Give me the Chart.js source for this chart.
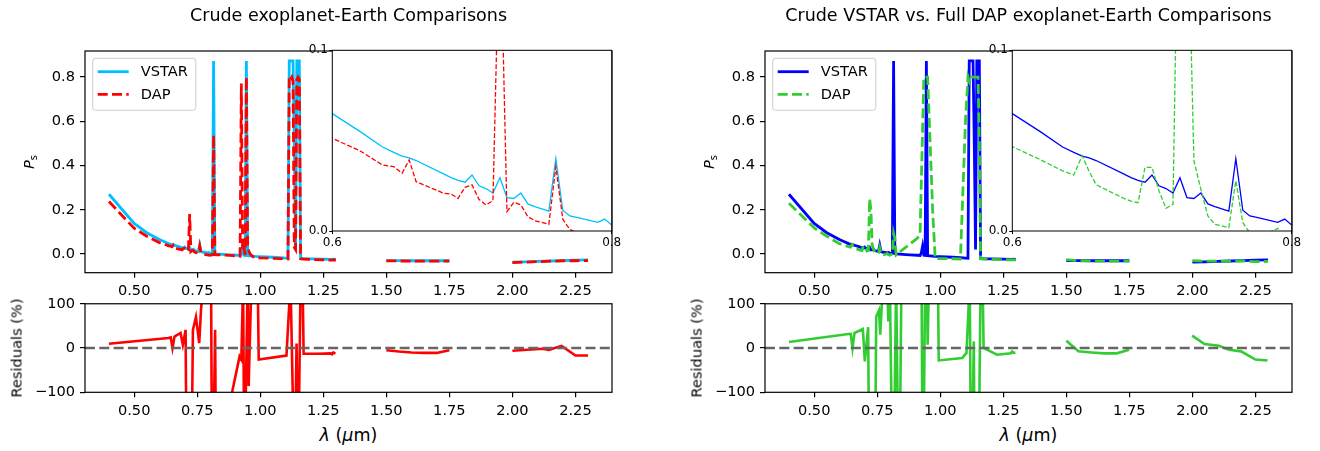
<!DOCTYPE html>
<html>
<head>
<meta charset="utf-8">
<script src="https://cdn.jsdelivr.net/npm/chart.js@4.4.1/dist/chart.umd.min.js"></script>
<style>
  html, body { margin: 0; padding: 0; background: #fff; }
  #fig { position: relative; width: 1320px; height: 451px; overflow: hidden;
         font-family: "DejaVu Sans", sans-serif; color: #000; }
  #fig canvas { position: absolute; }
  .title { position: absolute; top: 5px; font-size: 17.5px; line-height: 20px;
           white-space: nowrap; transform: translateX(-50%); }
  .xlabel { position: absolute; top: 425px; font-size: 17.5px; line-height: 20px;
            white-space: nowrap; transform: translateX(-50%); }
  .ylabel { position: absolute; font-size: 14.6px; line-height: 17px; white-space: nowrap;
            transform: translate(-50%, -50%) rotate(-90deg); }
  .ylabel sub { font-size: 10px; vertical-align: -3px; }
</style>
</head>
<body>
<div id="fig">
  <canvas id="mainL" width="640" height="300" style="left:0px;top:0px"></canvas>
  <canvas id="insetL" width="330" height="215" style="left:300px;top:40px"></canvas>
  <canvas id="resL" width="640" height="130" style="left:0px;top:290px"></canvas>
  <canvas id="mainR" width="640" height="300" style="left:680px;top:0px"></canvas>
  <canvas id="insetR" width="330" height="215" style="left:980px;top:40px"></canvas>
  <canvas id="resR" width="640" height="130" style="left:680px;top:290px"></canvas>

  <div class="title" style="left:348.5px">Crude exoplanet-Earth Comparisons</div>
  <div class="title" style="left:1028.5px">Crude VSTAR vs. Full DAP exoplanet-Earth Comparisons</div>
  <div class="ylabel" style="left:31px;top:162px"><i>P</i><sub>s</sub></div>
  <div class="ylabel" style="left:711px;top:162px"><i>P</i><sub>s</sub></div>
  <div class="ylabel" style="left:16px;top:348px">Residuals (%)</div>
  <div class="ylabel" style="left:696px;top:348px">Residuals (%)</div>
  <div class="xlabel" style="left:348.5px"><i>λ</i> (<i>μ</i>m)</div>
  <div class="xlabel" style="left:1028.5px"><i>λ</i> (<i>μ</i>m)</div>
</div>

<script>
// --- wavelength grid (um); null entries mark the gaps between bands ---
const wl = [
  0.40, 0.50, 0.55, 0.60, 0.62, 0.636, 0.644, 0.65, 0.655, 0.66,
  0.68, 0.685, 0.69, 0.695, 0.70, 0.705, 0.71, 0.715, 0.72, 0.725,
  0.73, 0.735, 0.74, 0.745, 0.755, 0.76, 0.765, 0.77, 0.775, 0.79,
  0.795, 0.80, 0.81, 0.815, 0.82, 0.825, 0.85, 0.88, 0.91, 0.92,
  0.925, 0.93, 0.935, 0.94, 0.945, 0.95, 0.955, 0.96, 0.97, 0.98,
  1.00, 1.05, 1.08, 1.10, 1.11, 1.115, 1.12, 1.125, 1.13, 1.135,
  1.14, 1.145, 1.15, 1.155, 1.16, 1.17, 1.20, 1.25, 1.28, 1.29, 1.30,
  1.40,
  1.50, 1.55, 1.60, 1.65, 1.70, 1.75,
  1.90,
  2.00, 2.05, 2.10, 2.15, 2.20, 2.25, 2.30
];

// crude VSTAR (same in both panels)
const vstar = [
  0.270, 0.138, 0.096, 0.065, 0.055, 0.0465, 0.0435, 0.0415, 0.0405, 0.039,
  0.0315, 0.0295, 0.028, 0.027, 0.031, 0.025, 0.0235, 0.021, 0.0295, 0.0185,
  0.018, 0.021, 0.015, 0.0135, 0.011, 0.040, 0.0115, 0.0083, 0.0075, 0.0048,
  0.0066, 0.0033, 0.002, 0.873, 0.001, 0.0, -0.002, -0.004, -0.006, -0.007,
  0.005, 0.035, -0.006, -0.007, 0.873, -0.008, -0.009, -0.009, -0.010, -0.011,
  -0.012, -0.015, -0.017, -0.019, -0.020, 0.873, 0.873, 0.873, 0.873, 0.50,
  0.02, 0.873, 0.873, 0.873, -0.020, -0.021, -0.022, -0.024, -0.025, -0.024, -0.025,
  null,
  -0.030, -0.030, -0.031, -0.031, -0.031, -0.031,
  null,
  -0.037, -0.036, -0.034, -0.032, -0.030, -0.028, -0.027
];

// crude DAP (left panel)
const dapCrude = [
  0.237, 0.116, 0.080, 0.0513, 0.0443, 0.0365, 0.0356, 0.032, 0.0393, 0.0273,
  0.0208, 0.0205, 0.018, 0.0242, 0.0255, 0.0175, 0.0144, 0.0168, 0.18, 0.0107,
  0.0159, 0.0144, 0.0079, 0.0057, 0.0037, 0.0356, 0.0065, 0.0009, -0.001, -0.004,
  -0.005, -0.006, -0.004, 0.538, -0.003, -0.004, -0.005, -0.007, -0.009, -0.010,
  0.771, 0.02, 0.03, -0.005, 0.80, 0.03, 0.012, 0.0, -0.012, -0.016,
  -0.018, -0.020, -0.021, -0.022, -0.023, 0.80, 0.79, 0.80, 0.78, 0.03,
  0.02, 0.79, 0.80, 0.79, -0.022, -0.023, -0.025, -0.027, -0.028, -0.027, -0.028,
  null,
  -0.0315, -0.032, -0.0325, -0.033, -0.033, -0.032,
  null,
  -0.039, -0.037, -0.035, -0.033, -0.031, -0.031, -0.030
];

// full DAP (right panel)
const dapFull = [
  0.229, 0.118, 0.080, 0.0467, 0.0395, 0.0333, 0.031, 0.0417, 0.033, 0.0256,
  0.018, 0.0165, 0.0157, 0.0352, 0.0352, 0.0222, 0.0126, 0.0148, 0.25, 0.20,
  0.0389, 0.023, 0.0083, 0.0037, 0.0019, 0.0278, 0.0046, -0.001, -0.004, 0.0015,
  -0.004, -0.006, 0.0, 0.093, 0.07, -0.005, 0.018, 0.045, 0.072, 0.09,
  0.33, 0.565, 0.80, 0.80, 0.80, 0.80, 0.648, 0.496, 0.192, -0.021,
  -0.021, -0.022, -0.023, 0.60, 0.80, 0.78, 0.80, 0.80, 0.80, 0.80,
  0.80, 0.80, 0.80, 0.50, -0.022, -0.023, -0.025, -0.026, -0.027, -0.026, -0.027,
  null,
  -0.026, -0.031, -0.032, -0.033, -0.033, -0.032,
  null,
  -0.030, -0.033, -0.033, -0.033, -0.032, -0.035, -0.034
];

// residuals (%)
const resWlCrude = [
  0.40, 0.636, 0.645, 0.652, 0.66, 0.684, 0.693, 0.704, 0.709, 0.725,
  0.733, 0.745, 0.758, 0.765, 0.773, 0.805, 0.81, 0.821, 0.826, 0.84,
  0.87, 0.918, 0.925, 0.932, 0.937, 0.95, 0.954, 0.965, 0.99, 0.994,
  1.104, 1.12, 1.136, 1.144, 1.15, 1.16, 1.168, 1.172, 1.225, 1.28,
  1.285, 1.29, 1.298,
  1.40,
  1.50, 1.55, 1.60, 1.65, 1.70, 1.75,
  1.90,
  2.00, 2.12, 2.145, 2.195, 2.25, 2.30
];
const resCrude = [
  9.8, 22.6, 24, 0, 26, 34, 7.5, 41, -400, -400,
  41, 70, 11, 86, 140, 140, -400, 41, -400, -300,
  -150, -19, -26, 150, -300, 150, -86, 150, 150, -26,
  -17, 150, -300, 10, -300, 150, 150, -13, -13, -12,
  -14, -10, -13,
  null,
  -5, -8, -10, -11, -11, -5,
  null,
  -6, -1.5, -4, 5, -17, -17
];

const resWlFull = [
  0.40, 0.636, 0.645, 0.652, 0.66, 0.693, 0.701, 0.714, 0.72, 0.74,
  0.746, 0.757, 0.762, 0.773, 0.79, 0.794, 0.80, 0.813, 0.825, 0.837,
  0.846, 0.926, 0.931, 0.94, 0.947, 0.95, 0.955, 0.991, 0.994, 1.087,
  1.104, 1.117, 1.123, 1.133, 1.138, 1.15, 1.16, 1.168, 1.172, 1.225,
  1.28, 1.285, 1.29, 1.298,
  1.40,
  1.50, 1.548, 1.60, 1.65, 1.70, 1.749,
  1.90,
  1.999, 2.048, 2.105, 2.145, 2.193, 2.25, 2.298
];
const resFull = [
  13.5, 31.6, 32, 0, 34, 43, -30, 47, -400, -400,
  71, 85, 30, 150, 150, 60, 150, -400, 150, -400,
  150, 150, -400, 150, 150, 7.5, 150, 150, -28, -22.5,
  -11, 150, -400, 15, -400, -400, 150, 150, 0, -15,
  -12, -8, -11, -10,
  null,
  16.5, -7.5, -10, -12, -12, -4,
  null,
  28, 9, 5, -4, -7.5, -26, -28
];

// axes ranges and ticks
const xRange = [0.305, 2.395];
const xTicks = [0.50, 0.75, 1.00, 1.25, 1.50, 1.75, 2.00, 2.25];
const xTickLabels = ['0.50', '0.75', '1.00', '1.25', '1.50', '1.75', '2.00', '2.25'];
const mainYRange = [-0.085, 0.918];
const mainYTicks = [0, 0.2, 0.4, 0.6, 0.8];
const mainYTickLabels = ['0.0', '0.2', '0.4', '0.6', '0.8'];
const insetXRange = [0.6, 0.8];
const insetXTicks = [0.6, 0.8];
const insetXTickLabels = ['0.6', '0.8'];
const insetYRange = [0, 0.1];
const insetYTicks = [0, 0.1];
const insetYTickLabels = ['0.0', '0.1'];
const resYRange = [-100, 100];
const resYTicks = [-100, 0, 100];
const resYTickLabels = ['\u2212100', '0', '100'];

const FONT = 'DejaVu Sans';
const pts = (xs, ys) => xs.map((x, i) => ({ x: x, y: ys[i] }));

// full box around the plotting area, with optional background
const framePlugin = {
  id: 'frame',
  beforeDraw(chart, args, opts) {
    if (!opts.fill) return;
    const a = chart.chartArea, ctx = chart.ctx;
    ctx.save();
    ctx.fillStyle = opts.fill;
    ctx.fillRect(a.left, a.top, a.right - a.left, a.bottom - a.top);
    ctx.restore();
  },
  afterDraw(chart, args, opts) {
    const a = chart.chartArea, ctx = chart.ctx;
    ctx.save();
    ctx.strokeStyle = '#000';
    ctx.lineWidth = opts.width || 1.2;
    ctx.strokeRect(a.left, a.top, a.right - a.left, a.bottom - a.top);
    ctx.restore();
  }
};

// matplotlib-style legend box in the upper left corner
const boxLegendPlugin = {
  id: 'boxLegend',
  afterDraw(chart, args, opts) {
    if (!opts.items) return;
    const a = chart.chartArea, ctx = chart.ctx;
    ctx.save();
    ctx.font = '14.6px "' + FONT + '"';
    const textW = Math.max(...opts.items.map(it => ctx.measureText(it.label).width));
    const x0 = a.left + 7.7, y0 = a.top + 7.3;
    const w = 5 + 31 + 12 + textW + 8, h = 52;
    ctx.beginPath();
    ctx.roundRect(x0, y0, w, h, 3);
    ctx.fillStyle = 'rgba(255,255,255,0.8)';
    ctx.fill();
    ctx.strokeStyle = '#cccccc';
    ctx.lineWidth = 1;
    ctx.stroke();
    opts.items.forEach((it, i) => {
      const y = y0 + 13.4 + i * 22.6;
      ctx.beginPath();
      ctx.setLineDash(it.dash || []);
      ctx.strokeStyle = it.color;
      ctx.lineWidth = 2.8;
      ctx.moveTo(x0 + 5, y);
      ctx.lineTo(x0 + 36, y);
      ctx.stroke();
      ctx.setLineDash([]);
      ctx.fillStyle = '#000';
      ctx.textBaseline = 'middle';
      ctx.fillText(it.label, x0 + 48, y + 1);
    });
    ctx.restore();
  }
};

function axis(range, ticks, labels, o) {
  return {
    type: 'linear',
    min: range[0],
    max: range[1],
    afterBuildTicks: s => { s.ticks = ticks.map(v => ({ value: v })); },
    afterFit: s => { if (o.width) s.width = o.width; if (o.height) s.height = o.height; },
    ticks: {
      callback: (v, i) => labels[i],
      font: { family: FONT, size: o.font },
      color: '#000',
      padding: o.pad,
      autoSkip: false,
      maxRotation: 0
    },
    grid: {
      display: true,
      drawOnChartArea: false,
      drawTicks: true,
      tickLength: o.tick,
      color: '#000',
      lineWidth: o.lw
    },
    border: { display: false }
  };
}

function lineSet(data, color, width, dash, order) {
  return {
    data: data,
    borderColor: color,
    borderWidth: width,
    borderDash: dash,
    pointRadius: 0,
    tension: 0,
    fill: false,
    spanGaps: false,
    order: order,
    clip: 0
  };
}

function baseOptions(padding, xs, ys, frameOpts, legendOpts) {
  return {
    responsive: false,
    animation: false,
    events: [],
    layout: { padding: padding, autoPadding: false },
    plugins: {
      legend: { display: false },
      tooltip: { enabled: false },
      title: { display: false },
      frame: frameOpts,
      boxLegend: legendOpts || {}
    },
    scales: { x: xs, y: ys }
  };
}

const panels = [
  { mainId: 'mainL', insetId: 'insetL', resId: 'resL', vColor: '#00bfff', dap: dapCrude, dColor: '#ff0000',
    resWl: resWlCrude, resVals: resCrude },
  { mainId: 'mainR', insetId: 'insetR', resId: 'resR', vColor: '#0000ff', dap: dapFull, dColor: '#32cd32',
    resWl: resWlFull, resVals: resFull }
];

const DASH_MAIN = [10, 4.3];
const DASH_INSET = [4.8, 2.1];

panels.forEach(p => {
  // main panel
  new Chart(document.getElementById(p.mainId), {
    type: 'line',
    data: {
      datasets: [
        lineSet(pts(wl, vstar), p.vColor, 2.8, [], 1),
        lineSet(pts(wl, p.dap), p.dColor, 2.8, DASH_MAIN, 0)
      ]
    },
    options: baseOptions(
      { left: 0, top: 51, right: 28, bottom: 0 },
      axis(xRange, xTicks, xTickLabels, { height: 27.3, font: 14.6, pad: 5, tick: 5, lw: 1.2 }),
      axis(mainYRange, mainYTicks, mainYTickLabels, { width: 85, font: 14.6, pad: 5, tick: 5, lw: 1.2 }),
      { width: 1.2 },
      { items: [
        { label: 'VSTAR', color: p.vColor, dash: [] },
        { label: 'DAP', color: p.dColor, dash: DASH_MAIN }
      ] }
    ),
    plugins: [framePlugin, boxLegendPlugin]
  });

  // zoomed inset 0.6-0.8 um
  new Chart(document.getElementById(p.insetId), {
    type: 'line',
    data: {
      datasets: [
        lineSet(pts(wl, vstar), p.vColor, 1.3, [], 1),
        lineSet(pts(wl, p.dap), p.dColor, 1.3, DASH_INSET, 0)
      ]
    },
    options: baseOptions(
      { left: 0, top: 10.3, right: 18.3, bottom: 0 },
      axis(insetXRange, insetXTicks, insetXTickLabels, { height: 24, font: 12, pad: 1.5, tick: 3, lw: 1 }),
      axis(insetYRange, insetYTicks, insetYTickLabels, { width: 32.3, font: 12, pad: 1.5, tick: 3, lw: 1 }),
      { width: 1, fill: '#ffffff' }
    ),
    plugins: [framePlugin]
  });

  // residuals
  new Chart(document.getElementById(p.resId), {
    type: 'line',
    data: {
      datasets: [
        lineSet(pts(p.resWl, p.resVals), p.dColor, 2.6, [], 1),
        lineSet([{ x: xRange[0], y: 0 }, { x: xRange[1], y: 0 }], '#666666', 2.4, DASH_MAIN, 0)
      ]
    },
    options: baseOptions(
      { left: 0, top: 13.3, right: 28, bottom: 0 },
      axis(xRange, xTicks, xTickLabels, { height: 27.7, font: 14.6, pad: 5, tick: 5, lw: 1.2 }),
      axis(resYRange, resYTicks, resYTickLabels, { width: 85, font: 14.6, pad: 5, tick: 5, lw: 1.2 }),
      { width: 1.2 }
    ),
    plugins: [framePlugin]
  });
});
</script>
</body>
</html>
